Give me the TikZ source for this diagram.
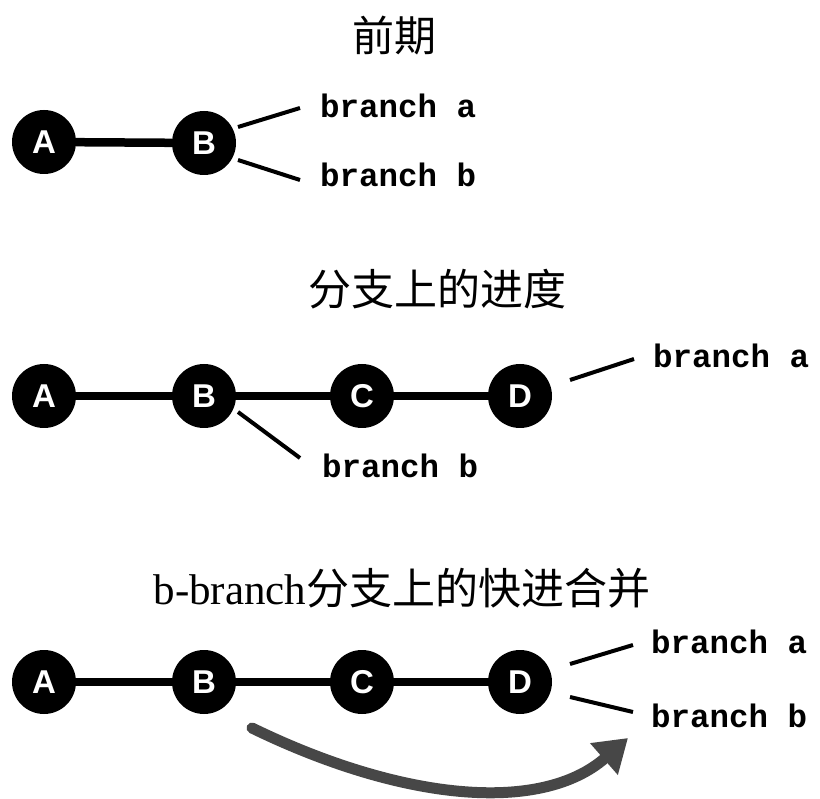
\documentclass[tikz,border=0pt]{standalone}
\usepackage{fontspec}
\setmainfont{Liberation Serif}
\newfontfamily\cjk{Noto Sans CJK SC}
\newfontfamily\monofam{Liberation Mono}
\newfontfamily\sansfam{Liberation Sans}
\usetikzlibrary{arrows.meta}
\begin{document}
\begin{tikzpicture}[x=1pt,y=-1pt,
  commit/.style={circle,fill=black,minimum size=64pt,inner sep=0pt,text=white,font=\sansfam\bfseries\fontsize{33}{35}\selectfont},
  link/.style={line width=8.5pt},
  ptr/.style={line width=4pt},
  blabel/.style={anchor=west,inner sep=0pt,font=\monofam\bfseries\fontsize{32.5}{36}\selectfont},
  title/.style={inner sep=0pt,font=\fontsize{42}{48}\selectfont}]
\useasboundingbox (0,0) rectangle (820,799);
\fill[white] (0,0) rectangle (820,799);

% Section 1
\node[title] (t1) at (394,36) {\cjk 前期};
\node[commit] (a1) at (44,142) {A};
\node[commit] (b1) at (204,143) {B};
\draw[link] (a1) -- (b1);
\node[blabel] (ba1) at (320,106) {branch a};
\node[blabel] (bb1) at (320,175) {branch b};
\coordinate (p1s) at (238,127); \coordinate (p1e) at (300,108);
\coordinate (p2s) at (238,160); \coordinate (p2e) at (300,180);
\draw[ptr] (p1s) -- (p1e);
\draw[ptr] (p2s) -- (p2e);

% Section 2
\node[title,font=\fontsize{43}{48}\selectfont] (t2) at (437,289) {\cjk 分支上的进度};
\node[commit] (a2) at (44,396) {A};
\node[commit] (b2) at (204,396) {B};
\node[commit] (c2) at (362,396) {C};
\node[commit] (d2) at (520,396) {D};
\draw[link] (a2) -- (b2) -- (c2) -- (d2);
\node[blabel] (ba2) at (653,356) {branch a};
\node[blabel] (bb2) at (322,466) {branch b};
\coordinate (q1s) at (570,380); \coordinate (q1e) at (634,359);
\coordinate (q2s) at (238,412); \coordinate (q2e) at (300,458);
\draw[ptr] (q1s) -- (q1e);
\draw[ptr] (q2s) -- (q2e);

% Section 3
\node[title,font=\fontsize{43}{48}\selectfont] (t3) at (402,588) {b-branch{\cjk 分支上的快进合并}};
\node[commit] (a3) at (44,682) {A};
\node[commit] (b3) at (204,682) {B};
\node[commit] (c3) at (362,682) {C};
\node[commit] (d3) at (520,682) {D};
\draw[link] (a3) -- (b3) -- (c3) -- (d3);
\node[blabel] (ba3) at (651,642) {branch a};
\node[blabel] (bb3) at (651,716) {branch b};
\coordinate (r1s) at (570,664); \coordinate (r1e) at (633,645);
\coordinate (r2s) at (570,697); \coordinate (r2e) at (633,712);
\draw[ptr] (r1s) -- (r1e);
\draw[ptr] (r2s) -- (r2e);

\coordinate (m0) at (252,728);
\coordinate (m1) at (628,738);
\draw[line width=11pt,color=black!72,line cap=round,-{Triangle[length=32pt,width=40pt]}]
  (m0) .. controls (400,800) and (540,815) .. (m1);
\end{tikzpicture}
\end{document}
